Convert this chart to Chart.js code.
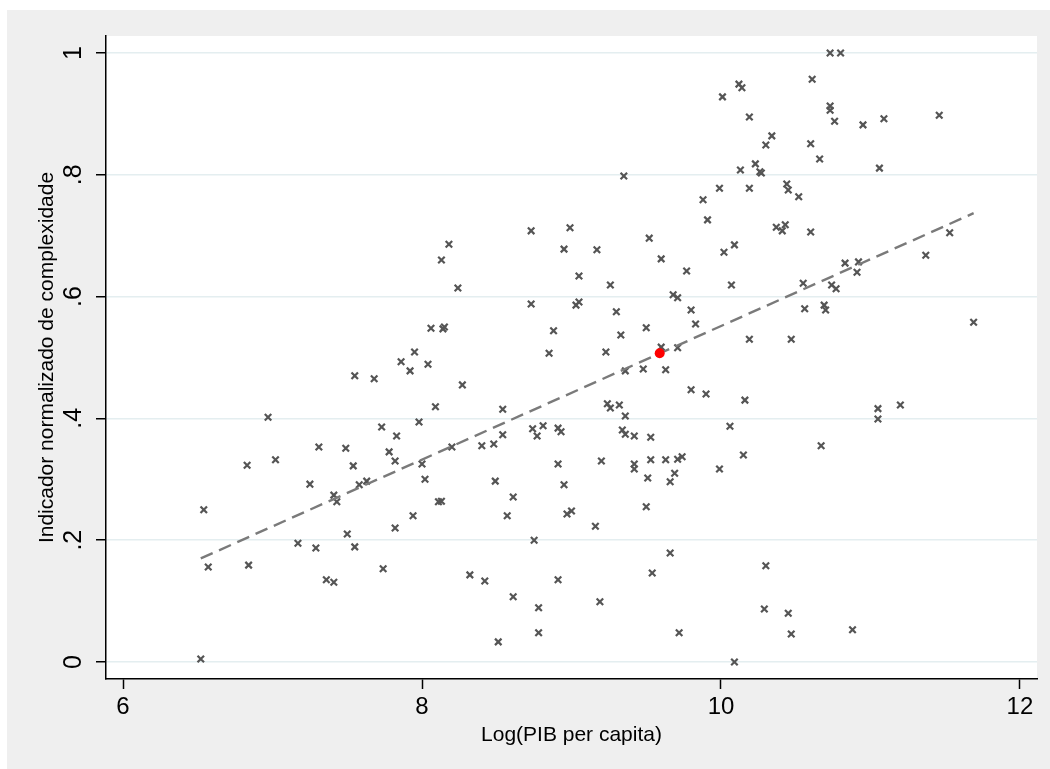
<!DOCTYPE html>
<html>
<head>
<meta charset="utf-8">
<script src="https://cdn.jsdelivr.net/npm/chart.js@4"></script>
<style>
  html, body { margin: 0; padding: 0; background: #fff; }
  canvas { display: block; }
</style>
</head>
<body>
<canvas id="scatterChart" width="1050" height="769"></canvas>
<script>
// log GDP per capita vs normalized complexity indicator
const logPib = [
  6.52, 6.54, 6.57, 6.83, 6.84, 6.97, 7.02, 7.17, 7.25, 7.29,
  7.31, 7.36, 7.41, 7.41, 7.43, 7.49, 7.50, 7.54, 7.55, 7.55,
  7.58, 7.63, 7.68, 7.73, 7.74, 7.78, 7.83, 7.82, 7.82, 7.86,
  7.92, 7.94, 7.95, 7.98, 8.00, 8.02, 8.04, 8.06, 8.09, 8.11,
  8.13, 8.13, 8.14, 8.15, 8.18, 8.20, 8.24, 8.27, 8.32, 8.40,
  8.42, 8.48, 8.49, 8.51, 8.54, 8.54, 8.57, 8.61, 8.61, 8.73,
  8.73, 8.74, 8.75, 8.77, 8.78, 8.78, 8.81, 8.85, 8.88, 8.91,
  8.91, 8.91, 8.93, 8.95, 8.95, 8.97, 8.99, 9.00, 9.03, 9.05,
  9.05, 9.16, 9.17, 9.19, 9.20, 9.23, 9.24, 9.26, 9.26, 9.30,
  9.32, 9.33, 9.34, 9.35, 9.36, 9.36, 9.36, 9.42, 9.42, 9.42,
  9.48, 9.50, 9.50, 9.51, 9.52, 9.53, 9.53, 9.54, 9.60, 9.60,
  9.63, 9.63, 9.66, 9.66, 9.68, 9.69, 9.71, 9.71, 9.71, 9.72,
  9.74, 9.77, 9.80, 9.80, 9.83, 9.88, 9.90, 9.91, 9.99, 9.99,
  10.01, 10.02, 10.06, 10.07, 10.09, 10.09, 10.12, 10.13, 10.14, 10.15,
  10.16, 10.19, 10.19, 10.19, 10.23, 10.26, 10.27, 10.29, 10.30, 10.30,
  10.34, 10.37, 10.41, 10.43, 10.44, 10.45, 10.45, 10.47, 10.47, 10.52,
  10.55, 10.56, 10.60, 10.60, 10.61, 10.66, 10.67, 10.69, 10.70, 10.73,
  10.73, 10.73, 10.74, 10.76, 10.77, 10.80, 10.83, 10.88, 10.91, 10.92,
  10.95, 11.05, 11.05, 11.06, 11.09, 11.20, 11.37, 11.46, 11.53, 11.69
];
const complexidade = [
  0.005, 0.250, 0.156, 0.323, 0.159, 0.402, 0.332, 0.195, 0.292, 0.187,
  0.353, 0.135, 0.131, 0.274, 0.263, 0.351, 0.210, 0.322, 0.189, 0.470,
  0.291, 0.297, 0.465, 0.386, 0.153, 0.345, 0.371, 0.330, 0.220, 0.493,
  0.478, 0.240, 0.509, 0.394, 0.325, 0.300, 0.489, 0.548, 0.419, 0.263,
  0.264, 0.660, 0.547, 0.550, 0.686, 0.353, 0.614, 0.455, 0.143, 0.355,
  0.133, 0.358, 0.297, 0.033, 0.415, 0.373, 0.240, 0.107, 0.271, 0.708,
  0.588, 0.383, 0.200, 0.371, 0.089, 0.048, 0.388, 0.507, 0.544, 0.135,
  0.384, 0.325, 0.378, 0.291, 0.678, 0.243, 0.713, 0.248, 0.586, 0.591,
  0.634, 0.223, 0.677, 0.099, 0.330, 0.509, 0.424, 0.619, 0.417, 0.575,
  0.422, 0.537, 0.381, 0.798, 0.404, 0.374, 0.478, 0.371, 0.325, 0.317,
  0.481, 0.549, 0.255, 0.302, 0.696, 0.369, 0.332, 0.146, 0.662, 0.517,
  0.480, 0.332, 0.296, 0.179, 0.603, 0.310, 0.598, 0.516, 0.333, 0.048,
  0.337, 0.642, 0.578, 0.447, 0.555, 0.759, 0.440, 0.726, 0.778, 0.317,
  0.928, 0.673, 0.387, 0.619, 0.685, 0.000, 0.949, 0.808, 0.943, 0.340,
  0.430, 0.530, 0.895, 0.778, 0.818, 0.805, 0.803, 0.087, 0.849, 0.158,
  0.864, 0.714, 0.708, 0.718, 0.785, 0.775, 0.080, 0.530, 0.046, 0.764,
  0.622, 0.580, 0.851, 0.706, 0.957, 0.826, 0.355, 0.586, 0.578, 1.000,
  0.913, 0.906, 0.619, 0.888, 0.613, 1.000, 0.655, 0.053, 0.640, 0.657,
  0.882, 0.416, 0.399, 0.811, 0.892, 0.422, 0.668, 0.898, 0.705, 0.558
];

// highlighted point (red) and the fitted line end points
const destaqueX = [9.59];
const destaqueY = [0.507];
const ajusteX = [6.52, 11.69];
const ajusteY = [0.170, 0.737];

const xTicks = [6, 8, 10, 12];
const yTicks = [0, 0.2, 0.4, 0.6, 0.8, 1];

const fontFamily = "'Liberation Sans', Arial, Helvetica, sans-serif";

function toPoints(xs, ys) {
  return xs.map((x, i) => ({ x: x, y: ys[i] }));
}

const backgroundPlugin = {
  id: "stataBackground",
  beforeDraw(chart) {
    const ctx = chart.ctx;
    const a = chart.chartArea;
    ctx.save();
    ctx.fillStyle = "#ffffff";
    ctx.fillRect(0, 0, chart.width, chart.height);
    ctx.fillStyle = "#efefef";
    ctx.fillRect(7, 10, chart.width - 7, chart.height - 10);
    ctx.fillStyle = "#ffffff";
    ctx.fillRect(a.left, a.top, a.right - a.left, a.bottom - a.top);
    ctx.restore();
  },
};

new Chart(document.getElementById("scatterChart"), {
  type: "scatter",
  data: {
    datasets: [
      {
        label: "destaque",
        data: toPoints(destaqueX, destaqueY),
        pointStyle: "circle",
        pointRadius: 5,
        backgroundColor: "#ff0000",
        borderWidth: 0,
        order: 0,
      },
      {
        type: "line",
        label: "ajuste",
        data: toPoints(ajusteX, ajusteY),
        borderColor: "#7a7a7a",
        borderWidth: 2.4,
        borderDash: [13, 7],
        pointRadius: 0,
        fill: false,
        order: 1,
      },
      {
        label: "países",
        data: toPoints(logPib, complexidade),
        pointStyle: "crossRot",
        pointRadius: 4.6,
        borderColor: "#555555",
        borderWidth: 2.2,
        order: 2,
      },
    ],
  },
  options: {
    responsive: false,
    animation: false,
    layout: { padding: { left: 0, right: 13, top: 36, bottom: 0 } },
    plugins: {
      legend: { display: false },
      tooltip: { enabled: false },
    },
    scales: {
      x: {
        type: "linear",
        min: 5.886,
        max: 12.114,
        afterBuildTicks: (scale) => {
          scale.ticks = xTicks.map((v) => ({ value: v }));
        },
        afterFit: (scale) => {
          scale.height = 90;
        },
        grid: {
          drawOnChartArea: false,
          drawTicks: true,
          tickLength: 10,
          tickColor: "#000",
          tickWidth: 1.5,
        },
        border: { display: true, color: "#000", width: 1.5 },
        ticks: {
          padding: 4,
          color: "#000",
          font: { family: fontFamily, size: 24 },
          maxRotation: 0,
          callback: (v) => String(v),
        },
        title: {
          display: true,
          text: "Log(PIB per capita)",
          color: "#000",
          font: { family: fontFamily, size: 21 },
          padding: { top: 0, bottom: 21 },
        },
      },
      y: {
        type: "linear",
        min: -0.028,
        max: 1.028,
        afterBuildTicks: (scale) => {
          scale.ticks = yTicks.map((v) => ({ value: v }));
        },
        afterFit: (scale) => {
          scale.width = 106;
        },
        grid: {
          color: "#e4eef0",
          lineWidth: 1.5,
          drawTicks: true,
          tickLength: 10,
          tickColor: "#000",
          tickWidth: 1.5,
        },
        border: { display: true, color: "#000", width: 1.5 },
        ticks: {
          minRotation: 90,
          maxRotation: 90,
          crossAlign: "center",
          padding: 11,
          color: "#000",
          font: { family: fontFamily, size: 25 },
          callback: (v) => String(v).replace(/^0\./, "."),
        },
        title: {
          display: true,
          text: "Indicador normalizado de complexidade",
          color: "#000",
          font: { family: fontFamily, size: 21 },
          padding: { top: 35, bottom: 0 },
        },
      },
    },
  },
  plugins: [backgroundPlugin],
});
</script>
</body>
</html>
